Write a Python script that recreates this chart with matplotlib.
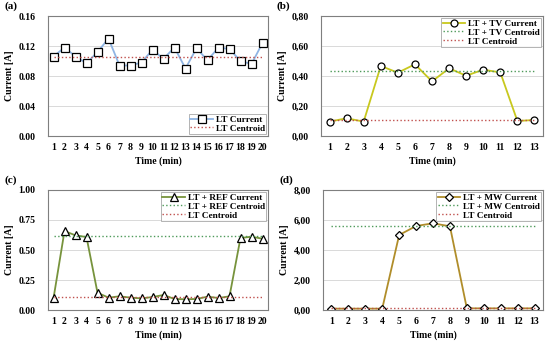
import numpy as np
import matplotlib.pyplot as plt

plt.rcParams['font.family'] = ['Liberation Serif', 'DejaVu Serif']
plt.rcParams['font.weight'] = 'bold'

# (a) LT only, 20 min
lt_t = np.arange(1, 21)
lt_cur = [0.106, 0.118, 0.106, 0.097, 0.112, 0.130, 0.094, 0.094, 0.098, 0.115,
          0.103, 0.118, 0.090, 0.117, 0.101, 0.118, 0.116, 0.100, 0.096, 0.124]
lt_cent = 0.106

# (b) LT + TV, 13 min
tv_t = np.arange(1, 14)
tv_cur = [0.096, 0.118, 0.096, 0.467, 0.422, 0.478, 0.364, 0.451, 0.402, 0.442,
          0.424, 0.100, 0.107]
tv_cent = 0.436

# (c) LT + REF, 20 min
ref_t = np.arange(1, 21)
ref_cur = [0.097, 0.658, 0.622, 0.608, 0.144, 0.103, 0.114, 0.103, 0.097, 0.108,
           0.125, 0.092, 0.089, 0.092, 0.111, 0.100, 0.114, 0.600, 0.611, 0.594]
ref_cent = 0.614

# (d) LT + MW, 13 min
mw_t = np.arange(1, 14)
mw_cur = [0.09, 0.09, 0.09, 0.09, 5.00, 5.60, 5.78, 5.58, 0.11, 0.11, 0.11, 0.11, 0.11]
mw_cent = 5.60

RED = '#c0504d'
GREEN = '#4e9a5a'

fig = plt.figure(figsize=(5.5, 3.41), dpi=100)
boxes = [(48/550, 1-136/341, 220/550, 120/341),
         (321/550, 1-136/341, 222/550, 120/341),
         (48/550, 1-310/341, 220/550, 120/341),
         (323/550, 1-310/341, 220/550, 120/341)]
axs = [fig.add_axes(b) for b in boxes]


def style(ax, t, ylim, yticks, comma, tag):
    ax.set_xlim(t[0] - 0.5, t[-1] + 0.5)
    ax.set_xticks(t)
    ax.set_ylim(*ylim)
    ax.set_yticks(yticks)
    labs = ['{:.2f}'.format(v) for v in yticks]
    if comma:
        labs = [s.replace('.', ',') for s in labs]
    ax.set_yticklabels(labs)
    ax.tick_params(labelsize=7, length=0)
    ax.tick_params(axis='y', pad=9)
    ax.tick_params(axis='x', pad=5)
    ax.grid(axis='y', color='#d9d9d9', lw=0.7)
    ax.set_axisbelow(True)
    for s in ax.spines.values():
        s.set_color('#7f7f7f')
        s.set_linewidth(0.8)
    ax.set_xlabel('Time (min)', fontsize=7, fontweight='bold', labelpad=3)
    ax.set_ylabel('Current [A]', fontsize=7, fontweight='bold', labelpad=3)
    ax.text(-0.2, 1.06, tag, transform=ax.transAxes, fontsize=8, fontweight='bold')
    for lab in ax.get_xticklabels() + ax.get_yticklabels():
        lab.set_fontweight('bold')


def legend(ax, loc):
    lg = ax.legend(loc=loc, fontsize=6.7, frameon=True, fancybox=False,
                   borderpad=0.15, handlelength=2.4, handletextpad=0.3,
                   labelspacing=0.05, borderaxespad=0.2)
    lg.get_frame().set_edgecolor('#a0a0a0')
    lg.get_frame().set_linewidth(0.7)


# (a)
ax = axs[0]
ax.plot(lt_t, lt_cur, color='#8fb4e3', lw=1.3, marker='s', ms=5.5,
        mfc='white', mec='black', mew=0.9, label='LT Current')
ax.plot([lt_t[0], lt_t[-1]], [lt_cent, lt_cent], ls=':', color=RED, lw=1.0, label='LT Centroid')
style(ax, lt_t, (0, 0.16), [0, 0.04, 0.08, 0.12, 0.16], False, '(a)')
legend(ax, 'lower right')

# (b)
ax = axs[1]
ax.plot(tv_t, tv_cur, color='#c8c81e', lw=1.3, marker='o', ms=5,
        mfc='white', mec='black', mew=0.9, label='LT + TV Current')
ax.plot([tv_t[0], tv_t[-1]], [tv_cent, tv_cent], ls=':', color=GREEN, lw=1.0, label='LT + TV Centroid')
ax.plot([tv_t[0], tv_t[-1]], [lt_cent, lt_cent], ls=':', color=RED, lw=1.0, label='LT Centroid')
style(ax, tv_t, (0, 0.8), [0, 0.2, 0.4, 0.6, 0.8], True, '(b)')
legend(ax, 'upper right')

# (c)
ax = axs[2]
ax.plot(ref_t, ref_cur, color='#77933c', lw=1.3, marker='^', ms=5.5,
        mfc='white', mec='black', mew=0.9, label='LT + REF Current')
ax.plot([ref_t[0], ref_t[-1]], [ref_cent, ref_cent], ls=':', color=GREEN, lw=1.0, label='LT + REF Centroid')
ax.plot([ref_t[0], ref_t[-1]], [lt_cent, lt_cent], ls=':', color=RED, lw=1.0, label='LT Centroid')
style(ax, ref_t, (0, 1.0), [0, 0.25, 0.5, 0.75, 1.0], False, '(c)')
legend(ax, 'upper right')

# (d)
ax = axs[3]
ax.plot(mw_t, mw_cur, color='#b08d2a', lw=1.3, marker='D', ms=4.5,
        mfc='white', mec='black', mew=0.9, label='LT + MW Current')
ax.plot([mw_t[0], mw_t[-1]], [mw_cent, mw_cent], ls=':', color=GREEN, lw=1.0, label='LT + MW Centroid')
ax.plot([mw_t[0], mw_t[-1]], [lt_cent, lt_cent], ls=':', color=RED, lw=1.0, label='LT Centroid')
style(ax, mw_t, (0, 8), [0, 2, 4, 6, 8], True, '(d)')
legend(ax, 'upper right')

fig.savefig('out.png', dpi=100)
